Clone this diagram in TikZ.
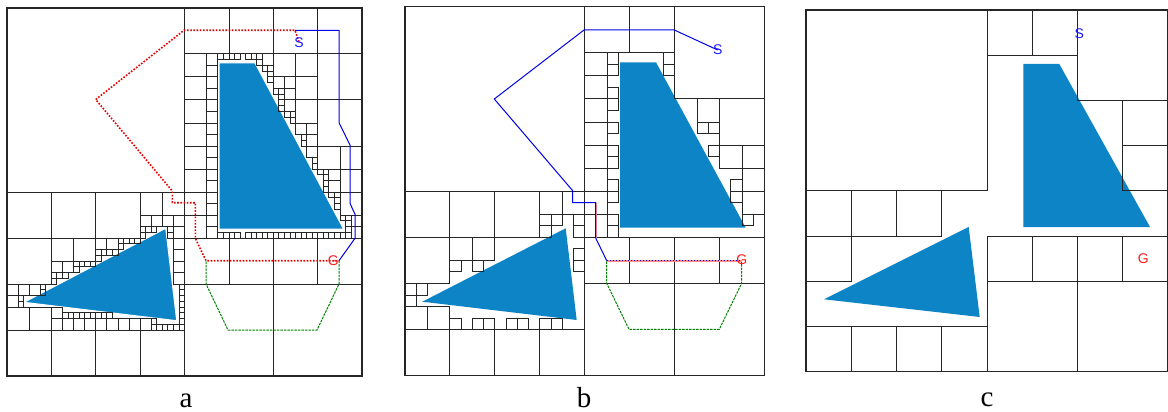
\documentclass[tikz,border=0pt]{standalone}
\usepackage{fontspec}
\setmainfont{Liberation Serif}
\newfontfamily\labelfont{Liberation Sans}
\usetikzlibrary{positioning}
\definecolor{obstblue}{HTML}{0C84C6}
\newcommand{\cells}[1]{\foreach \cx/\cy/\cs in {#1} \draw[cell] (\cx,\cy) rectangle ++(\cs,\cs);}

\begin{document}
\begin{tikzpicture}[
  x=1pt, y=-1pt,
  cell/.style={draw=black!85, line width=1pt},
  frame/.style={draw=black!85, line width=1.5pt},
  obstacle/.style={fill=obstblue, draw=none},
  obstacleh/.style={fill=obstblue, draw=white, line width=1pt},
  redpath/.style={red!90!black, line width=1.6pt, dash pattern=on 1.6pt off 1.6pt},
  bluepath/.style={blue!90!black, line width=1pt},
  pinkpath/.style={red!45, line width=1.6pt},
  greenpath/.style={green!50!black, line width=1pt, dash pattern=on 2.5pt off 1pt},
  startlabel/.style={font=\labelfont\fontsize{14}{14}\selectfont, blue!90!white, inner sep=0pt},
  goallabel/.style={font=\labelfont\fontsize{14}{14}\selectfont, red!90!white, inner sep=0pt},
  caption/.style={font=\fontsize{29}{29}\selectfont, text=black, inner sep=0pt, anchor=base},
]
\useasboundingbox (0,0) rectangle (1168,412);

% Panel a: fine subdivision
\draw[obstacleh] (219,63) -- (255,63) -- (343.5,229) -- (219,229) -- cycle;
\draw[obstacleh] (24,302.3) -- (165.7,228.3) -- (176.7,320.7) -- cycle;
\begin{scope}[shift={(7,8)}, xscale=5.55, yscale=5.75]
  \cells{0/0/32, 32/0/8, 40/0/8, 48/0/8, 56/0/8, 48/8/4, 52/8/4, 56/8/8,
    46/8/2, 45/8/1, 45/9/1, 46/10/1, 47/10/1, 47/11/1, 47/12/1,
    48/12/2, 50/12/2, 52/12/4, 48/14/1, 49/14/1, 49/15/1, 49/16/1, 49/17/1, 50/14/2,
    50/16/2, 50/18/1, 51/18/1, 51/19/1, 52/16/4, 56/16/8, 52/20/2, 54/20/2,
    53/22/1, 53/23/1, 54/22/2, 54/24/2, 55/26/1, 55/27/1, 56/24/4, 60/24/4,
    56/28/1, 57/28/1, 57/29/1, 58/28/2, 60/28/4, 57/30/1, 57/31/1, 58/30/2,
    58/32/1, 59/32/1, 59/33/1, 59/34/1, 60/32/4, 60/36/1, 61/36/1, 61/37/1, 62/36/2,
    61/38/1, 61/39/1, 62/38/2}
  \foreach \cy in {8,12,...,36} \draw[cell] (32,\cy) rectangle ++(4,4);
  \foreach \cy in {8,10,...,38} \draw[cell] (36,\cy) rectangle ++(2,2);
  \foreach \cx in {38,39,40,41,43,44} \draw[cell] (\cx,8) rectangle ++(1,1);
  \foreach \cx in {38,39,40,41,43,44,...,60} \draw[cell] (\cx,39) rectangle ++(1,1);
  \cells{32/40/8, 40/40/8, 48/40/8, 56/40/8, 32/48/16, 48/48/16,
    0/32/8, 8/32/8, 16/32/8, 24/32/4, 28/32/4, 24/36/2, 26/36/2, 28/36/2, 30/36/2,
    24/38/1, 25/38/1, 26/38/1, 24/39/1, 29/38/1, 29/39/1, 30/38/2,
    0/40/8, 8/40/4, 12/40/4, 16/40/2, 18/40/2, 20/40/1, 21/40/1, 22/40/1, 23/40/1, 20/41/1,
    16/42/1, 17/42/1, 18/42/1, 19/42/1, 16/43/1, 8/44/2, 10/44/2,
    12/44/1, 13/44/1, 14/44/1, 15/44/1, 12/45/1, 8/46/1, 9/46/1, 10/46/1, 8/47/1,
    30/40/2, 30/42/2, 30/44/2, 30/46/2,
    0/48/2, 2/48/2, 4/48/2, 6/48/1, 6/49/1, 0/50/2, 2/50/1, 2/51/1,
    0/52/4, 4/52/4, 8/52/2, 26/54/1, 0/56/8, 8/56/8, 16/56/8, 24/56/8}
  \foreach \cx in {8,10,...,24} \draw[cell] (\cx,54) rectangle ++(2,2);
  \foreach \cx in {10,11,...,18} \draw[cell] (\cx,53) rectangle ++(1,1);
  \foreach \cx in {26,27,...,31} \draw[cell] (\cx,55) rectangle ++(1,1);
  \foreach \cy in {48,49,...,54} \draw[cell] (31,\cy) rectangle ++(1,1);
  \draw[frame] (0,0) rectangle (64,64);
\end{scope}
\draw[greenpath] (339,260.7) -- (339,284) -- (317,330) -- (228,330) -- (206,284) -- (206,260.7);
\draw[bluepath] (295,30.3) -- (339,30.3) -- (339,122.7) -- (350,145) -- (350,203.3) -- (355,214.3) -- (355,238.3) -- (339,260.7);
\draw[redpath] (299,41.7) -- (295,30.3) -- (184,30.3) -- (95.7,99.5) -- (172.3,191) -- (172.3,202.7) -- (195.3,202.7) -- (195.3,238.3) -- (206,260.7) -- (339,260.7);
\node[startlabel] (a_start) at (299,42.7) {S};
\node[goallabel] (a_goal) at (333.3,260.7) {G};
\node[caption] (a_cap) at (186,407) {a};

% Panel b: coarser subdivision
\draw[obstacle] (620,62.3) -- (656,62.3) -- (745.7,227.7) -- (620,227.7) -- cycle;
\draw[obstacle] (422.3,301.7) -- (565.7,228.3) -- (576.7,320) -- cycle;
\begin{scope}[shift={(405,6.7)}, xscale=5.617, yscale=5.766]
  \cells{0/0/32, 32/0/8, 40/0/8, 48/0/16, 46/8/2, 46/10/2,
    36/8/2, 36/10/2, 36/14/2, 36/16/2, 36/20/2, 36/24/2, 36/26/2, 36/30/2, 36/32/2, 36/36/2, 36/38/2,
    52/16/4, 52/20/2, 54/20/2, 56/16/8, 54/24/2, 56/24/4, 60/24/4, 60/28/4, 58/30/2, 58/32/2,
    60/32/4, 60/36/2,
    32/40/8, 40/40/8, 48/40/8, 56/40/8, 32/48/16, 48/48/16,
    0/32/8, 8/32/8, 16/32/8, 24/32/4, 28/32/4, 24/36/2, 26/36/2, 24/38/2, 30/36/2, 30/38/2,
    0/40/8, 8/40/4, 12/40/4, 8/44/2, 12/44/2, 30/42/2, 30/44/2,
    0/48/2, 2/48/2, 0/50/2, 0/52/4, 4/52/4,
    8/54/2, 12/54/2, 14/54/2, 18/54/2, 20/54/2, 24/54/2, 26/54/2,
    0/56/8, 8/56/8, 16/56/8, 24/56/8}
  \foreach \cy in {8,12,...,36} \draw[cell] (32,\cy) rectangle ++(4,4);
  \draw[frame] (0,0) rectangle (64,64);
\end{scope}
\draw[greenpath] (741.7,260.7) -- (741.7,283.3) -- (719.3,329.3) -- (629,329.3) -- (606.7,283.3) -- (606.7,260.7);
\draw[pinkpath] (595.7,202.7) -- (595.7,238) (606.7,260.7) -- (741.7,260.7);
\draw[bluepath] (717.7,50) -- (674.3,30) -- (584,30) -- (494.3,99) -- (572.7,190.7) -- (572.7,202.7) -- (595.7,202.7) -- (595.7,238) -- (606.7,260.7);
\draw[bluepath, dash pattern=on 1.5pt off 1.5pt] (606.7,260.7) -- (741.7,260.7);
\node[startlabel] (b_start) at (717.7,50) {S};
\node[goallabel] (b_goal) at (741.7,260) {G};
\node[caption] (b_cap) at (584,407) {b};

% Panel c: coarsest subdivision
\draw[obstacle] (1023.3,64) -- (1059.3,64) -- (1150,227) -- (1023.3,227) -- cycle;
\draw[obstacle] (824,299.3) -- (968.7,227) -- (979.7,317) -- cycle;
\begin{scope}[shift={(806,10)}, xscale=5.656, yscale=5.652]
  \cells{0/0/32, 32/0/8, 40/0/8, 48/0/16, 56/16/8, 56/24/8,
    0/32/8, 8/32/8, 16/32/8, 0/40/8,
    32/40/8, 40/40/8, 48/40/8, 56/40/8, 32/48/16, 48/48/16,
    0/56/8, 8/56/8, 16/56/8, 24/56/8}
  \draw[frame] (0,0) rectangle (64,64);
\end{scope}
\node[startlabel] (c_start) at (1079.3,33.3) {S};
\node[goallabel] (c_goal) at (1143.3,258.3) {G};
\node[caption] (c_cap) at (987,406) {c};

\end{tikzpicture}
\end{document}
